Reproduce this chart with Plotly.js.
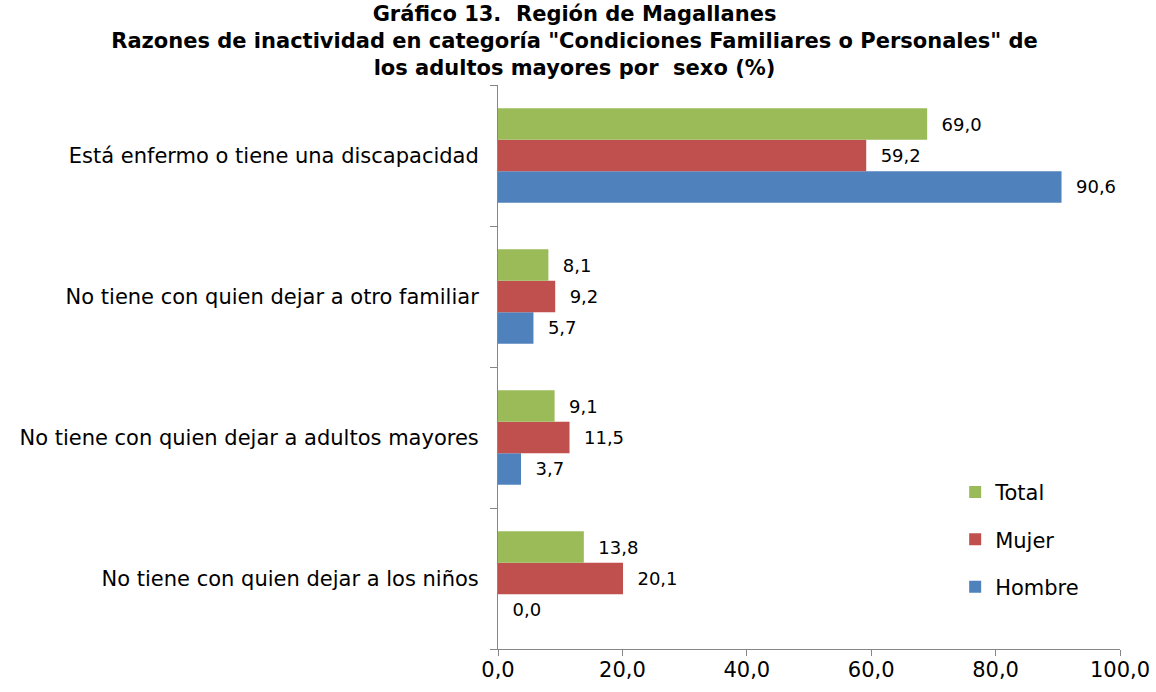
<!DOCTYPE html>
<html><head><meta charset="utf-8">
<script src="https://cdn.plot.ly/plotly-3.0.1.min.js"></script>
<style>html,body{margin:0;padding:0;background:#fff}</style>
</head><body>
<div id="chart" style="width:1156px;height:692px"></div>
<script>
var categories = [
  "No tiene con quien dejar a los niños",
  "No tiene con quien dejar a adultos mayores",
  "No tiene con quien dejar a otro familiar",
  "Está enfermo o tiene una discapacidad"
];
var hombre = [0.0, 3.7, 5.7, 90.6];
var mujer = [20.1, 11.5, 9.2, 59.2];
var total = [13.8, 9.1, 8.1, 69.0];
var seriesNames = ["Hombre", "Mujer", "Total"];
var seriesColors = ["#4F81BD", "#C0504D", "#9BBB59"];
var legendRanks = [3, 2, 1];
var xTicks = [0, 20, 40, 60, 80, 100];

var font = "DejaVu Sans, Verdana, sans-serif";
var data = [hombre, mujer, total].map(function(vals, i){
  return {
    type: "bar", orientation: "h",
    name: seriesNames[i], legendgroup: seriesNames[i], legendrank: legendRanks[i],
    y: categories, x: vals,
    marker: {color: seriesColors[i]},
    text: vals.map(function(v){ return "\u00a0\u00a0" + v.toFixed(1).replace(".", ","); }),
    textposition: "outside", cliponaxis: false,
    textfont: {family: font, size: 18, color: "#000"},
    hoverinfo: "x+name"
  };
});

var layout = {
  width: 1156, height: 692,
  margin: {l: 498, r: 36, t: 85, b: 43},
  paper_bgcolor: "#fff", plot_bgcolor: "#fff",
  separators: ",.",
  font: {family: font, size: 20, color: "#000"},
  barmode: "group", bargap: 0.33, bargroupgap: 0,
  title: {
    text: "<b>Gráfico 13.  Región de Magallanes<br>Razones de inactividad en categoría \"Condiciones Familiares o Personales\" de<br>los adultos mayores por  sexo (%)</b>",
    font: {family: font, size: 21, color: "#000"},
    x: 0.497, xanchor: "center", yref: "container", y: 0.97, yanchor: "top"
  },
  xaxis: {
    range: [0, 100], tickvals: xTicks, tickformat: ".1f",
    showgrid: false, zeroline: false,
    showline: true, linecolor: "#868686", linewidth: 1,
    ticks: "outside", ticklen: 6, tickcolor: "#868686",
    ticklabelstandoff: -4,
    tickfont: {family: font, size: 21}
  },
  yaxis: {
    type: "category", categoryarray: categories, categoryorder: "array",
    showgrid: false, zeroline: false,
    showline: true, linecolor: "#868686", linewidth: 1,
    ticks: "outside", ticklen: 7, tickcolor: "#868686", tickson: "boundaries",
    ticklabelstandoff: 14,
    tickfont: {family: font, size: 21}
  },
  showlegend: true,
  legend: {
    traceorder: "grouped", tracegroupgap: 17,
    x: 0.735, xanchor: "left", y: 0.314, yanchor: "top",
    font: {family: font, size: 21}, itemwidth: 30, bgcolor: "rgba(0,0,0,0)"
  }
};

Plotly.newPlot("chart", data, layout, {displayModeBar: false, staticPlot: true});
</script>
</body></html>
